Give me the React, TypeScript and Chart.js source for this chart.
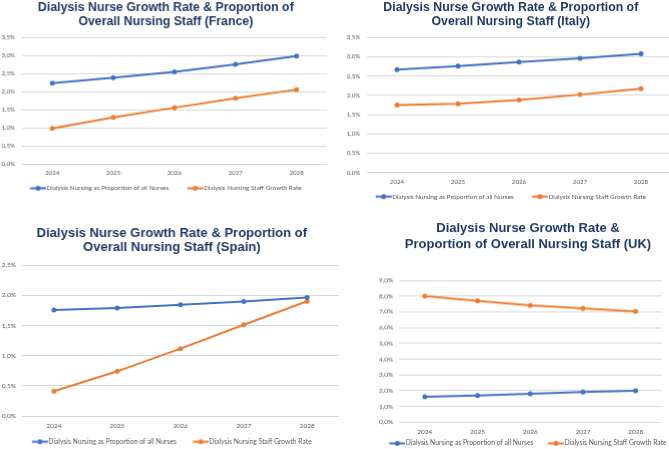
import React, { useEffect, useRef } from "react";
import { Chart, registerables } from "chart.js";

Chart.register(...registerables);

// ---------- data ----------
const YEARS = ["2024", "2025", "2026", "2027", "2028"];
const SERIES_PROPORTION = "Dialysis Nursing as Proportion of all Nurses";
const SERIES_GROWTH = "Dialysis Nursing Staff Growth Rate";

const FRANCE_TITLE = ["Dialysis Nurse Growth Rate & Proportion of", "Overall Nursing Staff (France)"];
const FRANCE_PROPORTION = [2.24, 2.39, 2.55, 2.76, 2.99];
const FRANCE_GROWTH = [0.99, 1.29, 1.56, 1.82, 2.06];

const ITALY_TITLE = ["Dialysis Nurse Growth Rate & Proportion of", "Overall Nursing Staff (Italy)"];
const ITALY_PROPORTION = [2.67, 2.76, 2.86, 2.96, 3.08];
const ITALY_GROWTH = [1.75, 1.78, 1.88, 2.02, 2.17];

const SPAIN_TITLE = ["Dialysis Nurse Growth Rate & Proportion of", "Overall Nursing Staff (Spain)"];
const SPAIN_PROPORTION = [1.755, 1.79, 1.84, 1.895, 1.96];
const SPAIN_GROWTH = [0.41, 0.74, 1.115, 1.51, 1.9];

const UK_TITLE = ["Dialysis Nurse Growth Rate &", "Proportion of Overall Nursing Staff (UK)"];
const UK_PROPORTION = [1.61, 1.7, 1.8, 1.91, 2.0];
const UK_GROWTH = [8.0, 7.69, 7.41, 7.22, 7.03];

// y axis [max, step]
const FRANCE_AXIS = [3.5, 0.5];
const ITALY_AXIS = [3.5, 0.5];
const SPAIN_AXIS = [2.5, 0.5];
const UK_AXIS = [9, 1];

// ---------- styles ----------
const BLUE = "#4472C4";
const ORANGE = "#ED7D31";
const TITLE_COLOR = "#1F3864";
const TEXT_COLOR = "#595959";
const GRID_COLOR = "#D9D9D9";
const SMALL_FONT = "Lato, 'Open Sans', sans-serif";
const MARKER_LEN = 16;

type Panel = {
  title: string[];
  proportion: number[];
  growth: number[];
  axis: number[];
  boxLeft: number;
  boxRight: number;
  top: number;
  plotLeft: number;
  plotRight: number;
  plotTop: number;
  plotBottom: number;
  titleSize: number;
  titleLH: number;
  titleY: number;
  tickSize: number;
  legendSize: number;
  yTickPad: number;
  xLabelY: number;
  legendY: number;
  legendGap: number;
};

const PANELS: Panel[] = [
  {
    title: FRANCE_TITLE, proportion: FRANCE_PROPORTION, growth: FRANCE_GROWTH, axis: FRANCE_AXIS,
    boxLeft: 1, boxRight: 329.6, top: 0,
    plotLeft: 21.7, plotRight: 326, plotTop: 37.3, plotBottom: 163.3,
    titleSize: 12.3, titleLH: 14, titleY: 7.9, tickSize: 6.2, legendSize: 6.45,
    yTickPad: 6.7, xLabelY: 172.3, legendY: 187.3, legendGap: 18.5,
  },
  {
    title: ITALY_TITLE, proportion: ITALY_PROPORTION, growth: ITALY_GROWTH, axis: ITALY_AXIS,
    boxLeft: 346.7, boxRight: 674.3, top: 0,
    plotLeft: 366.2, plotRight: 671.2, plotTop: 37.3, plotBottom: 171.7,
    titleSize: 12.3, titleLH: 14, titleY: 7.7, tickSize: 6.2, legendSize: 6.45,
    yTickPad: 6.2, xLabelY: 180.7, legendY: 195.7, legendGap: 18.2,
  },
  {
    title: SPAIN_TITLE, proportion: SPAIN_PROPORTION, growth: SPAIN_GROWTH, axis: SPAIN_AXIS,
    boxLeft: 1, boxRight: 341.6, top: 220,
    plotLeft: 22.2, plotRight: 337.7, plotTop: 265, plotBottom: 416,
    titleSize: 13, titleLH: 14, titleY: 233.7, tickSize: 6.5, legendSize: 6.75,
    yTickPad: 6.2, xLabelY: 425.7, legendY: 441.7, legendGap: 16.2,
  },
  {
    title: UK_TITLE, proportion: UK_PROPORTION, growth: UK_GROWTH, axis: UK_AXIS,
    boxLeft: 368, boxRight: 688, top: 220,
    plotLeft: 398.5, plotRight: 662, plotTop: 280, plotBottom: 421.3,
    titleSize: 13, titleLH: 15.5, titleY: 228.7, tickSize: 6.5, legendSize: 6.75,
    yTickPad: 5.2, xLabelY: 431, legendY: 442.3, legendGap: 14.5,
  },
];

// Legend marker (line with a dot). The image is centred on the legend box, so the
// visible marker is drawn from the left edge of the box up to just before the text.
function boxWidthFor(fontSize: number) {
  return MARKER_LEN + 0.5 - fontSize / 2;
}
function makeLegendMarker(color: string, boxW: number): HTMLCanvasElement {
  const c = document.createElement("canvas");
  const half = Math.max(boxW / 2, MARKER_LEN - boxW / 2);
  const w = Math.ceil(half * 2);
  const h = 7;
  c.width = w;
  c.height = h;
  const x0 = w / 2 - boxW / 2;
  const ctx = c.getContext("2d")!;
  ctx.strokeStyle = color;
  ctx.lineWidth = 2;
  ctx.beginPath();
  ctx.moveTo(x0, h / 2);
  ctx.lineTo(x0 + MARKER_LEN, h / 2);
  ctx.stroke();
  ctx.fillStyle = color;
  ctx.beginPath();
  ctx.arc(x0 + MARKER_LEN / 2, h / 2, 2.5, 0, Math.PI * 2);
  ctx.fill();
  return c;
}

function fmt(v: number) {
  return v.toFixed(1).replace(".", ",") + "%";
}

function PanelChart({ p }: { p: Panel }) {
  const ref = useRef<HTMLCanvasElement | null>(null);
  const width = p.boxRight - p.boxLeft;
  const lineH = p.tickSize * 1.2;
  const legendPad = p.legendGap;
  const legendH = p.legendSize + legendPad + 10;
  const legendTop = p.legendY - legendPad - p.legendSize / 2;
  const xHeight = legendTop - p.plotBottom;
  const height = legendTop + legendH - p.top;
  const titlePadTop = p.titleY - p.top - p.titleLH / 2;
  const titlePadBottom = p.plotTop - p.top - titlePadTop - p.titleLH * p.title.length;
  // mirrored x ticks are not clipped to the (thin) axis box: centre = top - pad - lineH/2
  const xTickPad = -(p.xLabelY - p.plotBottom) - lineH / 2;
  const yWidth = p.plotLeft - p.boxLeft;
  const rightWidth = p.boxRight - p.plotRight;
  const boxW = boxWidthFor(p.legendSize);

  useEffect(() => {
    if (!ref.current) return;
    const blueMarker = makeLegendMarker(BLUE, boxW);
    const orangeMarker = makeLegendMarker(ORANGE, boxW);
    const mkDs = (label: string, data: number[], color: string) => ({
      label,
      data,
      borderColor: color,
      backgroundColor: color,
      borderWidth: 2,
      pointRadius: 2.5,
      pointHoverRadius: 2.5,
      pointBorderWidth: 0,
      tension: 0,
    });
    const chart = new Chart(ref.current, {
      type: "line",
      data: {
        labels: YEARS,
        datasets: [
          mkDs(SERIES_PROPORTION, p.proportion, BLUE),
          mkDs(SERIES_GROWTH, p.growth, ORANGE),
        ],
      },
      options: {
        responsive: true,
        maintainAspectRatio: false,
        animation: false,
        layout: { padding: 0 },
        plugins: {
          tooltip: { enabled: false },
          title: {
            display: true,
            text: p.title,
            color: TITLE_COLOR,
            font: {
              family: "'Liberation Sans', Arial, sans-serif",
              size: p.titleSize,
              weight: "bold",
              lineHeight: p.titleLH / p.titleSize,
            },
            padding: { top: titlePadTop, bottom: titlePadBottom },
          },
          legend: {
            display: true,
            position: "bottom",
            labels: {
              usePointStyle: true,
              pointStyleWidth: boxW,
              padding: legendPad,
              color: TEXT_COLOR,
              font: { family: SMALL_FONT, size: p.legendSize },
              generateLabels: (ch: any) =>
                ch.data.datasets.map((ds: any, i: number) => ({
                  text: ds.label,
                  fillStyle: ds.borderColor,
                  strokeStyle: ds.borderColor,
                  lineWidth: 0,
                  hidden: false,
                  datasetIndex: i,
                  pointStyle: i === 0 ? blueMarker : orangeMarker,
                  fontColor: TEXT_COLOR,
                })),
            },
          },
        },
        scales: {
          x: {
            offset: true,
            grid: { display: false },
            border: { display: false },
            ticks: {
              color: TEXT_COLOR,
              font: { family: SMALL_FONT, size: p.tickSize },
              padding: xTickPad,
              mirror: true,
              maxRotation: 0,
              autoSkip: false,
            },
            afterFit: (s: any) => {
              s.height = xHeight;
            },
          },
          y: {
            position: "left",
            min: 0,
            max: p.axis[0],
            grid: { color: GRID_COLOR, lineWidth: 1, drawTicks: false },
            border: { display: false },
            ticks: {
              stepSize: p.axis[1],
              color: TEXT_COLOR,
              font: { family: SMALL_FONT, size: p.tickSize },
              padding: p.yTickPad,
              callback: (v: any) => fmt(Number(v)),
            },
            afterFit: (s: any) => {
              s.width = yWidth;
            },
          },
          yRight: {
            type: "linear",
            position: "right",
            display: true,
            grid: { display: false, drawTicks: false },
            border: { display: false },
            ticks: { display: false },
            afterFit: (s: any) => {
              s.width = rightWidth;
            },
          },
        },
      },
    } as any);
    return () => chart.destroy();
  }, []);

  return (
    <div style={{ position: "absolute", left: p.boxLeft, top: p.top, width, height }}>
      <canvas ref={ref} />
    </div>
  );
}

export default function App() {
  return (
    <div
      style={{
        position: "fixed",
        left: 0,
        top: 0,
        width: 669,
        height: 449,
        overflow: "hidden",
        background: "#ffffff",
      }}
    >
      {PANELS.map((p, i) => (
        <PanelChart key={i} p={p} />
      ))}
    </div>
  );
}
